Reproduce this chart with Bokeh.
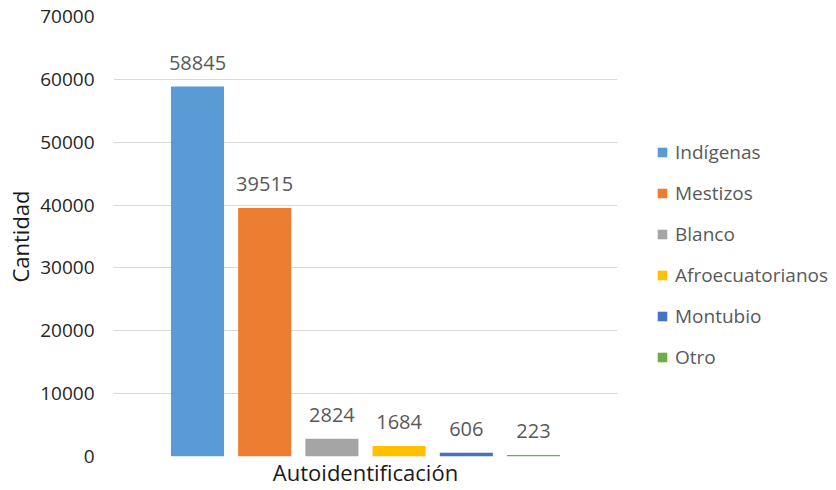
from bokeh.plotting import figure
from bokeh.models import Range1d, Legend, LegendItem, ColumnDataSource, FixedTicker
from bokeh.core.properties import value
from bokeh.embed import file_html
from bokeh.resources import INLINE

# ---- data ----
categories = ["Indígenas", "Mestizos", "Blanco", "Afroecuatorianos", "Montubio", "Otro"]
counts = [58845, 39515, 2824, 1684, 606, 223]
colors = ["#5B9BD5", "#ED7D31", "#A5A5A5", "#FFC000", "#4472C4", "#70AD47"]
y_ticks = [0, 10000, 20000, 30000, 40000, 50000, 60000, 70000]
x_title = "Autoidentificación"
y_title = "Cantidad"

FONT = "Open Sans"

src = ColumnDataSource(dict(
    x=list(range(len(categories))),
    top=counts,
    color=colors,
    name=categories,
    label=[str(v) for v in counts],
))

p = figure(frame_width=504, frame_height=440, output_backend="svg", toolbar_location=None,
           x_range=Range1d(-1.25, 6.25), y_range=Range1d(0, 70000),
           min_border_left=113, min_border_right=219, min_border_top=16,
           min_border_bottom=34)
p.outline_line_color = None
p.background_fill_color = "white"
p.border_fill_color = "white"

p.xgrid.visible = False
p.ygrid.grid_line_color = "#D9D9D9"
p.ygrid.grid_line_width = 1

# y axis
p.yaxis.ticker = FixedTicker(ticks=y_ticks)
p.yaxis.axis_line_color = None
p.yaxis.major_tick_line_color = None
p.yaxis.minor_tick_line_color = None
p.yaxis.major_tick_out = 0
p.yaxis.major_tick_in = 0
p.yaxis.major_label_standoff = 19
p.yaxis.major_label_text_font = FONT
p.yaxis.major_label_text_font_size = "19px"
p.yaxis.major_label_text_color = "#262626"
p.yaxis.axis_label = y_title
p.yaxis.axis_label_text_font = FONT
p.yaxis.axis_label_text_font_size = "22px"
p.yaxis.axis_label_text_font_style = "normal"
p.yaxis.axis_label_text_color = "#1a1a1a"
p.yaxis.axis_label_standoff = 2

# x axis
p.xaxis.ticker = FixedTicker(ticks=[])
p.xaxis.axis_line_color = None
p.xaxis.major_tick_line_color = None
p.xaxis.minor_tick_line_color = None
p.xaxis.major_tick_out = 0
p.xaxis.major_tick_in = 0
p.xaxis.major_label_text_font_size = "0px"
p.xaxis.axis_label = x_title
p.xaxis.axis_label_text_font = FONT
p.xaxis.axis_label_text_font_size = "22px"
p.xaxis.axis_label_text_font_style = "normal"
p.xaxis.axis_label_text_color = "#1a1a1a"
p.xaxis.axis_label_standoff = 0

bars = p.vbar(x="x", top="top", width=0.79, fill_color="color", line_color=None, source=src)

p.text(x="x", y="top", text="label", source=src,
       text_font=value(FONT), text_font_size="20px", text_color="#595959",
       text_align="center", text_baseline="alphabetic", y_offset=-24)

legend = Legend(
    items=[LegendItem(label=categories[i], renderers=[bars], index=i) for i in range(len(categories))],
    location="top_left",
    orientation="vertical",
    margin=39, padding=0,
    spacing=15,
    glyph_width=12, glyph_height=12,
    label_height=24,
    label_standoff=7,
    label_text_font=FONT,
    label_text_font_size="19px",
    label_text_color="#595959",
    title=" ",
    title_text_font_size="1px",
    title_standoff=83,
    border_line_color=None,
    background_fill_alpha=0,
)
p.add_layout(legend, "right")

open("out.html", "w").write(file_html(p, INLINE))
